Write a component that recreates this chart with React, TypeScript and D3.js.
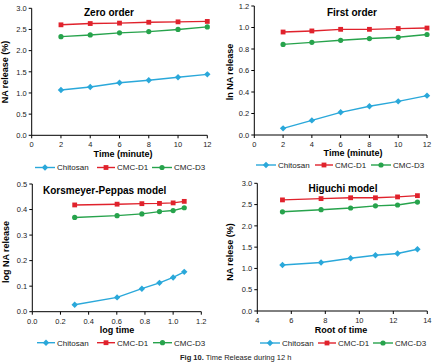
import React from "react";
import * as d3 from "d3";

const seriesNames = ["Chitosan", "CMC-D1", "CMC-D3"];
const seriesColors = ["#2aa8da", "#e0222c", "#27a34c"];

const timeX = [2, 4, 6, 8, 10, 12];
const logTimeX = [0.301, 0.602, 0.778, 0.903, 1.0, 1.079];
const rootTimeX = [5.48, 7.75, 9.49, 10.95, 12.25, 13.42];

const zeroChitosan = [1.07, 1.14, 1.24, 1.3, 1.37, 1.44];
const zeroD1 = [2.61, 2.64, 2.65, 2.67, 2.68, 2.69];
const zeroD3 = [2.33, 2.37, 2.42, 2.45, 2.5, 2.56];

const firstChitosan = [0.062, 0.136, 0.211, 0.267, 0.313, 0.366];
const firstD1 = [0.958, 0.968, 0.983, 0.983, 0.99, 0.995];
const firstD3 = [0.843, 0.862, 0.881, 0.897, 0.909, 0.935];

const kpChitosan = [0.027, 0.056, 0.09, 0.113, 0.134, 0.156];
const kpD1 = [0.418, 0.421, 0.423, 0.424, 0.426, 0.432];
const kpD3 = [0.369, 0.376, 0.383, 0.392, 0.396, 0.407];

const higChitosan = [1.08, 1.14, 1.24, 1.31, 1.35, 1.45];
const higD1 = [2.61, 2.64, 2.66, 2.66, 2.68, 2.71];
const higD3 = [2.33, 2.38, 2.42, 2.47, 2.49, 2.56];

const zeroTicksX = [0, 2, 4, 6, 8, 10, 12];
const zeroTicksY = [0, 0.5, 1, 1.5, 2, 2.5, 3];
const firstTicksY = [0, 0.2, 0.4, 0.6, 0.8, 1.0, 1.2];
const kpTicksX = [0, 0.2, 0.4, 0.6, 0.8, 1.0, 1.2];
const kpTicksY = [0, 0.1, 0.2, 0.3, 0.4, 0.5];
const higTicksX = [4, 6, 8, 10, 12, 14];

const FONT = "'Liberation Sans', Arial, sans-serif";

type PanelProps = {
  x0: number; x1: number; y0: number; y1: number;
  xDomain: [number, number]; yDomain: [number, number];
  xTicks: number[]; yTicks: number[];
  xFmt: (v: number) => string; yFmt: (v: number) => string;
  xs: number[]; ys: number[][];
  title: string; titleX: number; titleY: number; titleAnchor: string;
  xTitle: string; xTitleX: number; xTitleY: number;
  yTitle: string; yTitleX: number; yTitleY: number;
  legendY: number; legendPos: number[][];
};

function Marker({ kind, x, y, color }: { kind: number; x: number; y: number; color: string }) {
  if (kind === 0) {
    const r = 3.2;
    return <path d={`M${x},${y - r}L${x + r},${y}L${x},${y + r}L${x - r},${y}Z`} fill={color} />;
  }
  if (kind === 1) {
    return <rect x={x - 2.4} y={y - 2.4} width={4.8} height={4.8} fill={color} />;
  }
  return <circle cx={x} cy={y} r={2.6} fill={color} />;
}

function Panel(p: PanelProps) {
  const xs = d3.scaleLinear().domain(p.xDomain).range([p.x0, p.x1]);
  const ys = d3.scaleLinear().domain(p.yDomain).range([p.y0, p.y1]);
  const line = d3.line<[number, number]>().x((d) => xs(d[0])).y((d) => ys(d[1]));
  return (
    <g fontFamily={FONT}>
      <line x1={p.x0} x2={p.x0} y1={p.y0} y2={p.y1} stroke="#000" strokeWidth={1} />
      <line x1={p.x0} x2={p.x1} y1={p.y0} y2={p.y0} stroke="#000" strokeWidth={1} />
      {p.yTicks.map((t) => (
        <g key={"y" + t}>
          <line x1={p.x0 - 3} x2={p.x0} y1={ys(t)} y2={ys(t)} stroke="#000" />
          <text x={p.x0 - 5} y={ys(t) + 2.7} fontSize={7.5} textAnchor="end" fill="#222">{p.yFmt(t)}</text>
        </g>
      ))}
      {p.xTicks.map((t) => (
        <g key={"x" + t}>
          <line x1={xs(t)} x2={xs(t)} y1={p.y0} y2={p.y0 + 3} stroke="#000" />
          <text x={xs(t)} y={p.y0 + 12} fontSize={7.5} textAnchor="middle" fill="#222">{p.xFmt(t)}</text>
        </g>
      ))}
      {p.ys.map((vals, i) => {
        const pts = p.xs.map((x, j) => [x, vals[j]] as [number, number]);
        return (
          <g key={"s" + i}>
            <path d={line(pts) || ""} fill="none" stroke={seriesColors[i]} strokeWidth={1.4} />
            {pts.map((d, j) => (
              <Marker key={j} kind={i} x={xs(d[0])} y={ys(d[1])} color={seriesColors[i]} />
            ))}
          </g>
        );
      })}
      <text x={p.titleX} y={p.titleY} fontSize={10} fontWeight="bold" textAnchor={p.titleAnchor as any}>{p.title}</text>
      <text x={p.xTitleX} y={p.xTitleY} fontSize={9} fontWeight="bold" textAnchor="middle">{p.xTitle}</text>
      <text transform={`translate(${p.yTitleX},${p.yTitleY}) rotate(-90)`} fontSize={9} fontWeight="bold" textAnchor="middle" dy="0.35em">{p.yTitle}</text>
      {seriesNames.map((n, i) => {
        const [lx0, lx1, tx] = p.legendPos[i];
        return (
          <g key={"l" + i}>
            <line x1={lx0} x2={lx1} y1={p.legendY} y2={p.legendY} stroke={seriesColors[i]} strokeWidth={1.4} />
            <Marker kind={i} x={(lx0 + lx1) / 2} y={p.legendY} color={seriesColors[i]} />
            <text x={tx} y={p.legendY + 2.8} fontSize={8} fill="#222">{n}</text>
          </g>
        );
      })}
    </g>
  );
}

const f1 = d3.format(".1f");
const f0 = d3.format("d");

export default function App() {
  return (
    <svg width={435} height={362} style={{ position: "absolute", left: 0, top: 0, background: "#fff" }}>
      <rect width={435} height={362} fill="#fff" />
      <Panel
        x0={31.7} x1={207.3} y0={135.3} y1={8.3}
        xDomain={[0, 12]} yDomain={[0, 3]}
        xTicks={zeroTicksX} yTicks={zeroTicksY} xFmt={f0} yFmt={f1}
        xs={timeX} ys={[zeroChitosan, zeroD1, zeroD3]}
        title="Zero order" titleX={109} titleY={16} titleAnchor="middle"
        xTitle="Time (minute)" xTitleX={123} xTitleY={157}
        yTitle="NA release (%)" yTitleX={5} yTitleY={72}
        legendY={167.5} legendPos={[[35, 55, 57], [97, 115, 117], [152, 172, 174]]}
      />
      <Panel
        x0={254.3} x1={427} y0={135} y1={6}
        xDomain={[0, 12]} yDomain={[0, 1.2]}
        xTicks={zeroTicksX} yTicks={firstTicksY} xFmt={f0} yFmt={f1}
        xs={timeX} ys={[firstChitosan, firstD1, firstD3]}
        title="First order" titleX={352} titleY={16} titleAnchor="middle"
        xTitle="Time (minute)" xTitleX={353} xTitleY={156}
        yTitle="ln NA release" yTitleX={230} yTitleY={72}
        legendY={165} legendPos={[[256, 276, 278], [315, 333, 335], [371, 391, 393]]}
      />
      <Panel
        x0={32.3} x1={201.3} y0={311.7} y1={184}
        xDomain={[0, 1.2]} yDomain={[0, 0.5]}
        xTicks={kpTicksX} yTicks={kpTicksY} xFmt={f1} yFmt={f1}
        xs={logTimeX} ys={[kpChitosan, kpD1, kpD3]}
        title="Korsmeyer-Peppas model" titleX={43} titleY={194} titleAnchor="start"
        xTitle="log time" xTitleX={117} xTitleY={333}
        yTitle="log NA release" yTitleX={6} yTitleY={252}
        legendY={342.7} legendPos={[[37, 55, 57], [97, 115, 117], [153, 172, 174]]}
      />
      <Panel
        x0={257.3} x1={427.3} y0={311} y1={183.3}
        xDomain={[4, 14]} yDomain={[0, 3]}
        xTicks={higTicksX} yTicks={zeroTicksY} xFmt={f0} yFmt={f1}
        xs={rootTimeX} ys={[higChitosan, higD1, higD3]}
        title="Higuchi model" titleX={343} titleY={191.5} titleAnchor="middle"
        xTitle="Root of time" xTitleX={341} xTitleY={333}
        yTitle="NA relese (%)" yTitleX={230} yTitleY={252}
        legendY={343} legendPos={[[260, 280, 282], [318, 336, 338], [373, 393, 395]]}
      />
      <text x={180} y={359.5} fontFamily={FONT} fontSize={7.5} fill="#222">
        <tspan fontWeight="bold">Fig 10.</tspan>
        <tspan> Time Release during 12 h</tspan>
      </text>
    </svg>
  );
}
